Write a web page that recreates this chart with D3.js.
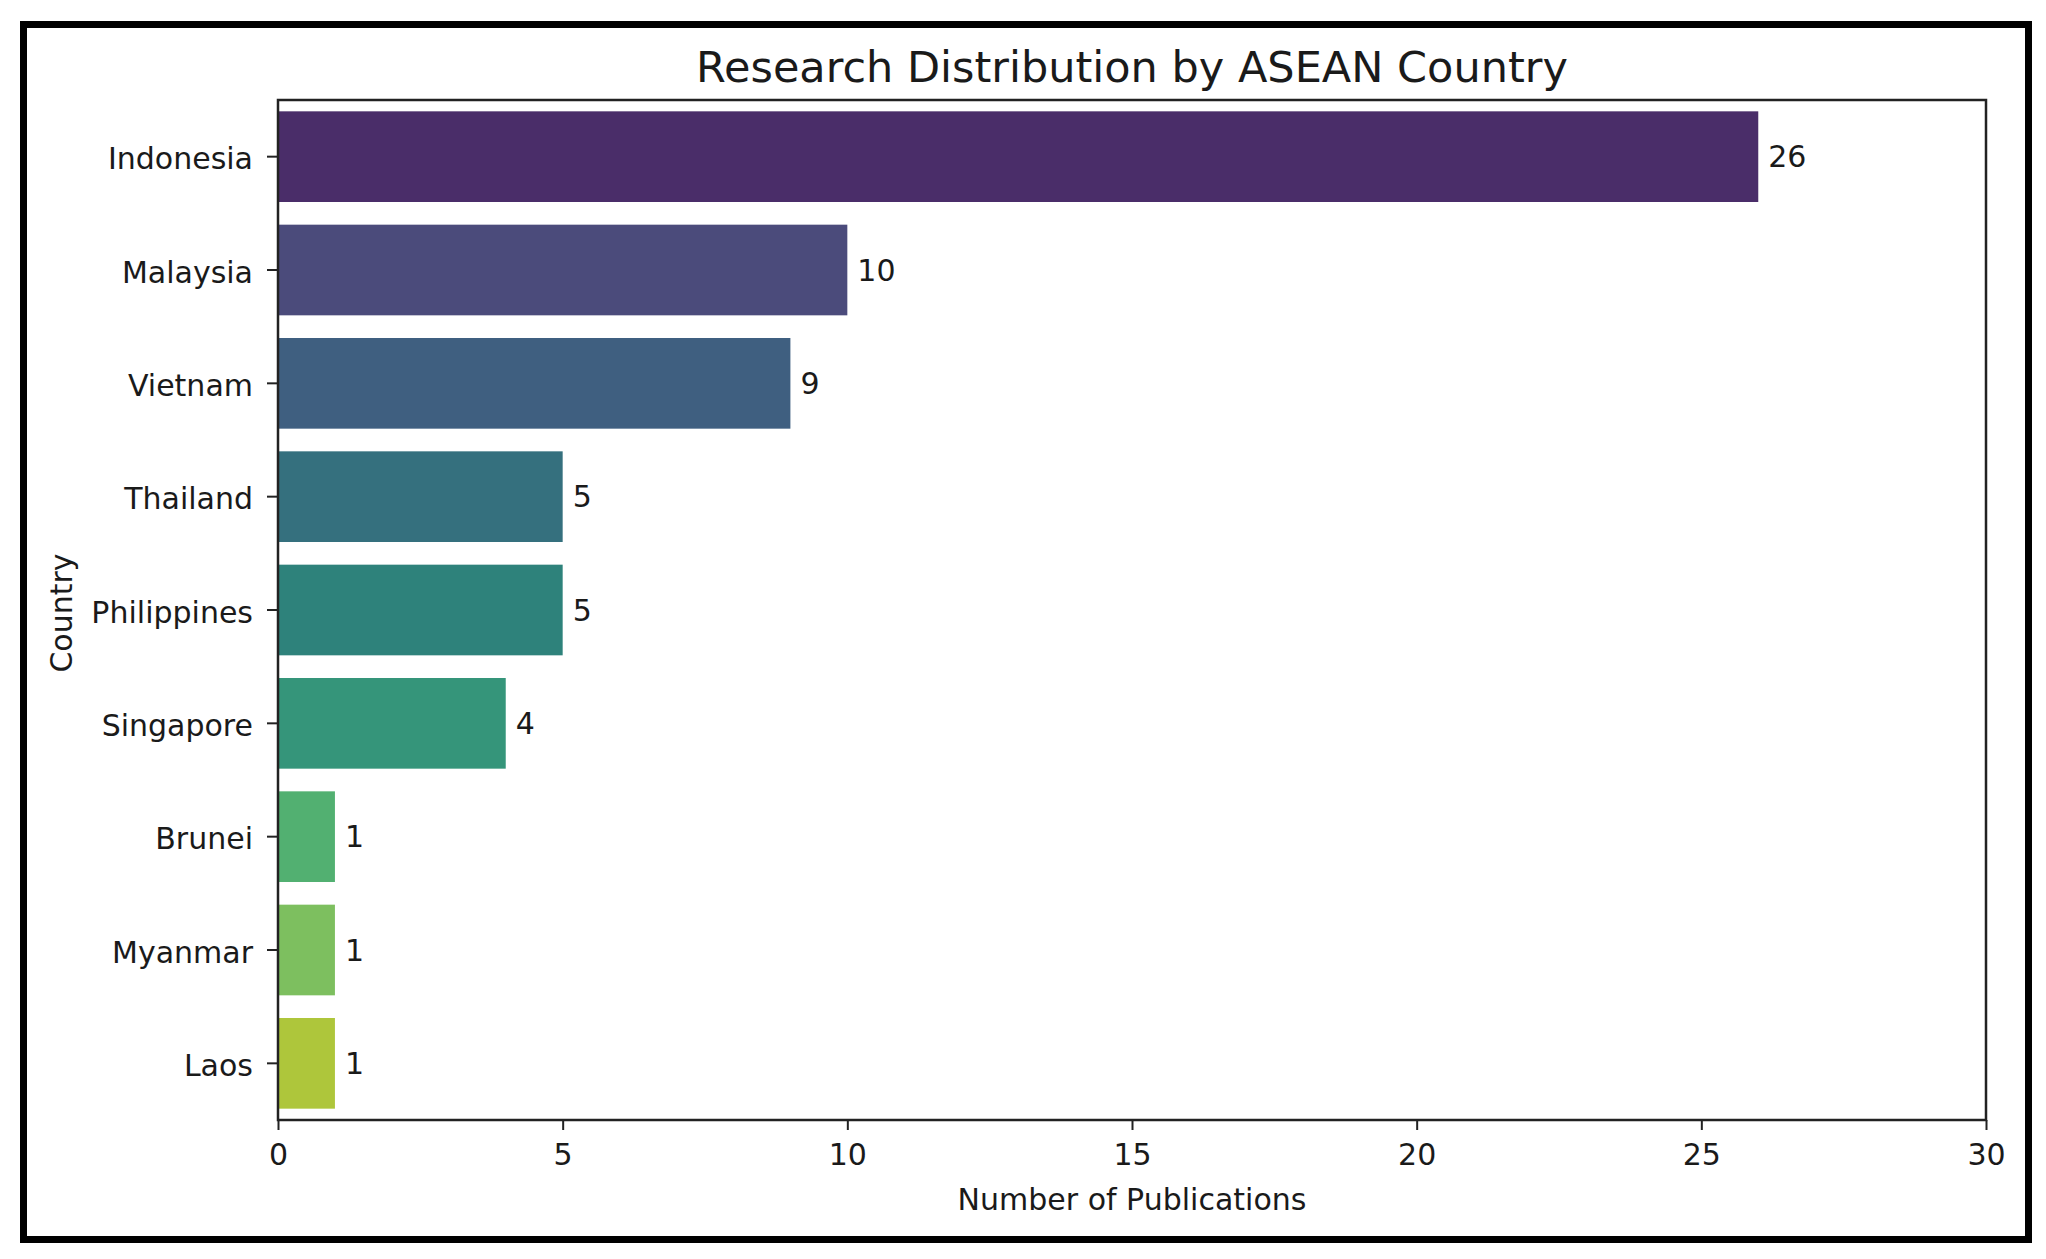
<!DOCTYPE html>
<html>
<head>
<meta charset="utf-8">
<script src="https://cdn.jsdelivr.net/npm/d3@7"></script>
<style>
  html, body { margin: 0; padding: 0; background: #fff; }
  svg { display: block; }
  text { font-family: "DejaVu Sans", sans-serif; fill: #1a1a1a; }
</style>
</head>
<body>
<script>
const countries = ["Indonesia", "Malaysia", "Vietnam", "Thailand", "Philippines", "Singapore", "Brunei", "Myanmar", "Laos"];
const publications = [26, 10, 9, 5, 5, 4, 1, 1, 1];
const barColors = ["#4a2d69", "#4b4b7b", "#3f5f80", "#35707e", "#2e827b", "#35957a", "#52b071", "#7dbf5f", "#aec63b"];
const xTicks = [0, 5, 10, 15, 20, 25, 30];
const titleText = "Research Distribution by ASEAN Country";
const xLabel = "Number of Publications";
const yLabel = "Country";

const W = 2046, H = 1259;
const plot = { left: 278, right: 1986, top: 100, bottom: 1120 };

const svg = d3.select("body").append("svg").attr("width", W).attr("height", H);

// outer frame
svg.append("rect").attr("x", 23.5).attr("y", 24.5).attr("width", 2005).attr("height", 1215)
  .attr("fill", "none").attr("stroke", "#000").attr("stroke-width", 7);

const x = d3.scaleLinear().domain([0, 30]).range([plot.left, plot.right]);
const y = d3.scaleBand().domain(countries).range([plot.top, plot.bottom]).paddingInner(0.2).paddingOuter(0.1);

const data = countries.map((c, i) => ({ country: c, value: publications[i], color: barColors[i] }));

// bars
svg.append("g").selectAll("rect").data(data).join("rect")
  .attr("x", x(0)).attr("y", d => y(d.country))
  .attr("width", d => x(d.value) - x(0)).attr("height", y.bandwidth())
  .attr("fill", d => d.color);

// value labels
svg.append("g").selectAll("text").data(data).join("text")
  .attr("x", d => x(d.value) + 10).attr("y", d => y(d.country) + y.bandwidth() / 2)
  .attr("dy", "0.36em").attr("font-size", 30).text(d => d.value);

// x axis
const xAxis = svg.append("g").attr("transform", `translate(0,${plot.bottom})`)
  .call(d3.axisBottom(x).tickValues(xTicks).tickSize(10).tickPadding(14).tickFormat(d3.format("d")));
xAxis.select(".domain").remove();
xAxis.selectAll(".tick line").attr("stroke", "#222").attr("stroke-width", 2);
xAxis.selectAll(".tick text").attr("font-size", 30).attr("font-family", "DejaVu Sans").attr("fill", "#1a1a1a");

// y axis
const yAxis = svg.append("g").attr("transform", `translate(${plot.left},0)`)
  .call(d3.axisLeft(y).tickSize(11).tickPadding(14));
yAxis.select(".domain").remove();
yAxis.selectAll(".tick line").attr("stroke", "#222").attr("stroke-width", 2);
yAxis.selectAll(".tick text").attr("font-size", 30).attr("font-family", "DejaVu Sans").attr("fill", "#1a1a1a")
  .attr("dy", "0.42em");

// plot frame (spines)
svg.append("rect").attr("x", plot.left).attr("y", plot.top)
  .attr("width", plot.right - plot.left).attr("height", plot.bottom - plot.top)
  .attr("fill", "none").attr("stroke", "#222").attr("stroke-width", 2.5);

// title
svg.append("text").attr("x", (plot.left + plot.right) / 2).attr("y", 82)
  .attr("text-anchor", "middle").attr("font-size", 43).text(titleText);

// x label
svg.append("text").attr("x", (plot.left + plot.right) / 2).attr("y", 1210)
  .attr("text-anchor", "middle").attr("font-size", 30).text(xLabel);

// y label
svg.append("text").attr("transform", `translate(72,${(plot.top + plot.bottom) / 2 + 3}) rotate(-90)`)
  .attr("text-anchor", "middle").attr("font-size", 30).text(yLabel);
</script>
</body>
</html>
